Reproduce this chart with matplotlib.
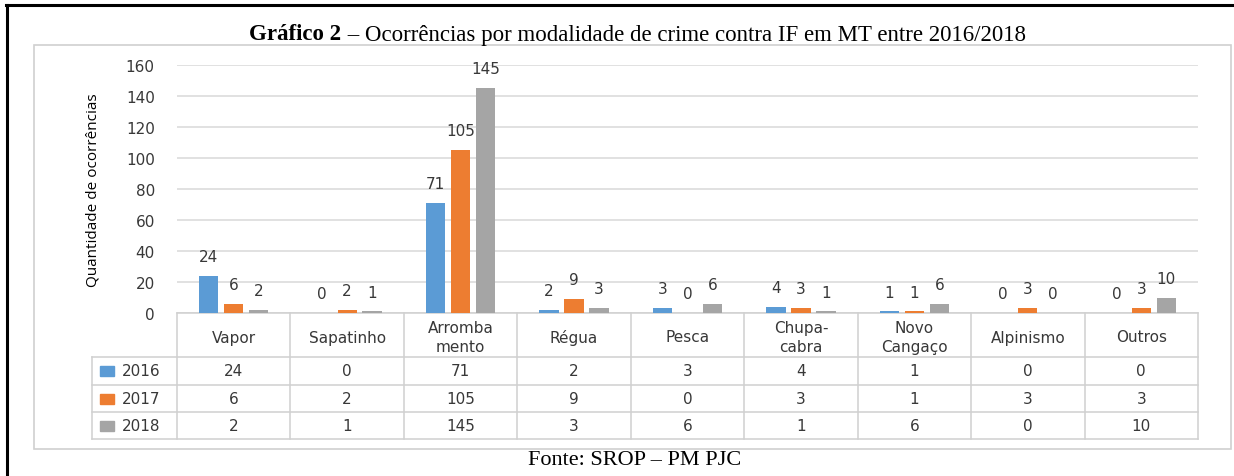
import matplotlib
matplotlib.use("Agg")
import matplotlib.pyplot as plt
from matplotlib.patches import Rectangle
from matplotlib.lines import Line2D
import numpy as np

# ---------------- data ----------------
categories = ["Vapor", "Sapatinho", "Arromba\nmento", "Régua", "Pesca",
              "Chupa-\ncabra", "Novo\nCangaço", "Alpinismo", "Outros"]
years = ["2016", "2017", "2018"]
v2016 = [24, 0, 71, 2, 3, 4, 1, 0, 0]
v2017 = [6, 2, 105, 9, 0, 3, 1, 3, 3]
v2018 = [2, 1, 145, 3, 6, 1, 6, 0, 10]
series = [v2016, v2017, v2018]
colors = ["#5B9BD5", "#ED7D31", "#A5A5A5"]
yticks = [0, 20, 40, 60, 80, 100, 120, 140, 160]

title_bold = "Gráfico 2"
title_rest = " – Ocorrências por modalidade de crime contra IF em MT entre 2016/2018"
ylabel = "Quantidade de ocorrências"
source = "Fonte: SROP – PM PJC"

W, H = 1234, 477
fig = plt.figure(figsize=(W / 100, H / 100), dpi=100)
fig.patch.set_facecolor("white")

def fx(px):
    return px / W

def fy(py):
    return 1 - py / H

TXT = "#383838"
SANS = "DejaVu Sans"
SERIF = "Liberation Serif"
LINEC = "#d0d0d0"
FS = 11

# outer black border (top + left)
fig.add_artist(Line2D([fx(6), fx(1234)], [fy(6), fy(6)], color="black", lw=2.2,
                      transform=fig.transFigure))
fig.add_artist(Line2D([fx(7), fx(7)], [fy(6), fy(477)], color="black", lw=2.2,
                      transform=fig.transFigure))
# gray chart frame
fig.add_artist(Rectangle((fx(34), fy(450)), fx(1231) - fx(34), fy(46) - fy(450),
                         transform=fig.transFigure, fill=False, ec=LINEC, lw=1.2))

# ---------------- bar axes ----------------
L, R = 177, 1198
TOP, BOT = 66, 314
ax = fig.add_axes([fx(L), fy(BOT), fx(R) - fx(L), fy(TOP) - fy(BOT)])
n = len(categories)
x = np.arange(n)
bw = 0.17
step = 0.22
for i, (vals, c) in enumerate(zip(series, colors)):
    xs = x + (i - 1) * step
    ax.bar(xs, vals, width=bw, color=c, zorder=3)
    for xi, v in zip(xs, vals):
        ax.annotate(str(v), (xi, v), xytext=(0, 14), textcoords="offset points",
                    ha="center", va="center", fontsize=FS, color=TXT,
                    family=SANS, annotation_clip=False)
ax.set_xlim(-0.5, n - 0.5)
ax.set_ylim(0, 160)
ax.set_yticks(yticks)
ax.set_yticklabels([str(t) for t in yticks], fontsize=FS, color=TXT, family=SANS)
ax.tick_params(axis="y", length=0, pad=16)
ax.set_xticks([])
ax.grid(axis="y", color="#d9d9d9", lw=1.1, zorder=0)
for s in ["left", "right", "top"]:
    ax.spines[s].set_visible(False)
ax.spines["bottom"].set_color(LINEC)
ax.spines["bottom"].set_linewidth(1.1)
ax.set_facecolor("none")
ax.set_ylabel(ylabel, family="Open Sans", fontsize=11, color="black")
ax.yaxis.set_label_coords((93 - L) / (R - L), 0.5)
ax.yaxis.label.set_va("center")

# ---------------- data table ----------------
TB = 440
axt = fig.add_axes([fx(L), fy(TB), fx(R) - fx(L), fy(BOT) - fy(TB)])
axt.set_xlim(-0.5, n - 0.5)
axt.set_ylim(TB - BOT, 0)
axt.axis("off")
rows = [0, 44, 72, 99, 126]
col_px = (R - L) / n
leg_left = -0.5 - (L - 92) / col_px

def hline(x0, x1, y):
    axt.add_line(Line2D([x0, x1], [y, y], color=LINEC, lw=1.1, clip_on=False))

def vline(xv, y0, y1):
    axt.add_line(Line2D([xv, xv], [y0, y1], color=LINEC, lw=1.1, clip_on=False))

for yv in rows[1:]:
    hline(leg_left, n - 0.5, yv)
for k in range(n + 1):
    vline(k - 0.5, rows[0], rows[-1])
vline(leg_left, rows[1], rows[-1])

for k, cat in enumerate(categories):
    axt.text(k, (rows[0] + rows[1]) / 2 + 2, cat, ha="center", va="center",
             fontsize=FS, color=TXT, family=SANS, linespacing=1.3)
for r, (yr, vals, c) in enumerate(zip(years, series, colors)):
    yc = (rows[r + 1] + rows[r + 2]) / 2
    sq_w = 14 / col_px
    axt.add_patch(Rectangle((leg_left + 8 / col_px, yc - 5), sq_w, 10, color=c,
                            clip_on=False))
    axt.text(leg_left + 30 / col_px, yc, yr, ha="left", va="center",
             fontsize=FS, color=TXT, family=SANS)
    for k, v in enumerate(vals):
        axt.text(k, yc, str(v), ha="center", va="center", fontsize=FS,
                 color=TXT, family=SANS)

# ---------------- title and source ----------------
t1 = fig.text(0, fy(35), title_bold, fontsize=16.5, family=SERIF,
              weight="bold", ha="left", va="center")
t2 = fig.text(0, fy(35), title_rest, fontsize=16.5, family=SERIF,
              ha="left", va="center")
fig.canvas.draw()
r = fig.canvas.get_renderer()
w1 = t1.get_window_extent(r).width
w2 = t2.get_window_extent(r).width
start = 637.5 - (w1 + w2) / 2
t1.set_x(fx(start))
t2.set_x(fx(start + w1))

fig.text(fx(635), fy(461), source, fontsize=16, family=SERIF,
         ha="center", va="center")

fig.savefig("out.png", dpi=100)
